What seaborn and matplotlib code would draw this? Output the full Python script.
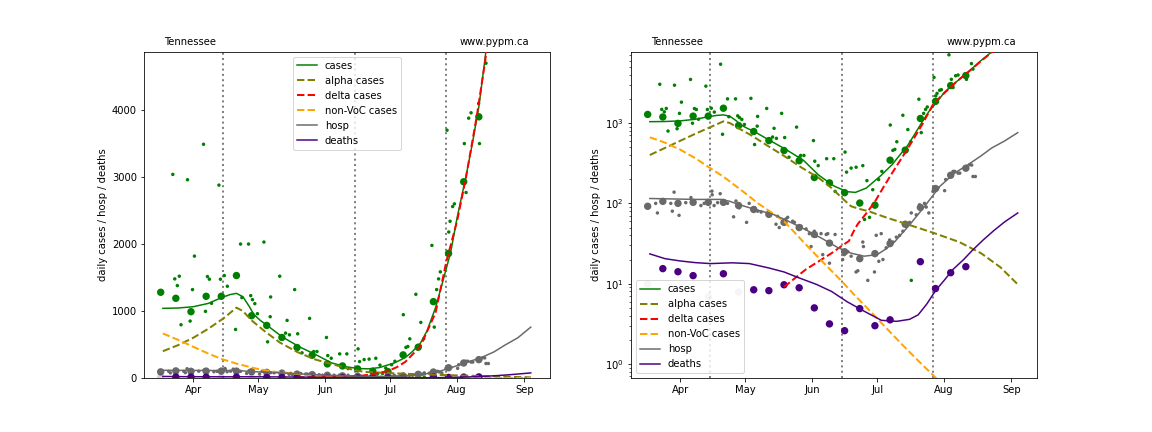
import numpy as np
import pandas as pd
import matplotlib
matplotlib.use("Agg")
import matplotlib.pyplot as plt
import matplotlib.dates as mdates
import seaborn as sns

# ---------------- data ----------------
region = "Tennessee"
site = "www.pypm.ca"

# weekly averaged observations
weekly_dates = ["2021-03-17", "2021-03-24", "2021-03-31", "2021-04-07", "2021-04-14",
                "2021-04-21", "2021-04-28", "2021-05-05", "2021-05-12", "2021-05-19",
                "2021-05-26", "2021-06-02", "2021-06-09", "2021-06-16", "2021-06-23",
                "2021-06-30", "2021-07-07", "2021-07-14", "2021-07-21", "2021-07-28",
                "2021-08-04", "2021-08-11"]
cases_weekly = [1280, 1190, 990, 1220, 1220, 1530, 930, 785, 605, 455, 340, 210, 180,
                136, 101, 95, 345, 460, 1140, 1860, 2930, 3900]
hosp_weekly = [92, 106, 100, 103, 103, 103, 94, 84, 73, 58, 50, 41, 32, 25, 20.5, 23.7,
               31.6, 55, 89, 153, 224, 274]
deaths_weekly = [10, 15.4, 14.1, 12.6, 6.9, 13.3, 7.9, 8.4, 8.2, 9.7, 8.9, 5.0, 3.16, 2.6,
                 4.9, 3.0, 3.55, np.nan, 18.8, 8.7, 13.7, 16.3]
deaths_faded = [True, False, False, False, True, False, True, False, False, False, False,
                False, False, False, False, False, False, False, False, False, False, False]

# daily observations: day offsets after 2021-04-01 and values
cases_daily_day = [-9.4, -8.5, -7.3, -6.4, -5.6, -2.6, -1.4, -0.3, 0.6, 4.8, 5.7, 6.6, 7.5,
                   8.5, 11.9, 12.6, 14.4, 15.8, 18.7, 19.6, 21.9, 22.5, 25.6, 26.6, 27.4,
                   28.5, 29.7, 32.7, 34.4, 34.7, 35.6, 35.8, 40.0, 42.7, 43.4, 44.5, 46.9,
                   48.3, 50.3, 53.8, 55.2, 55.7, 57.2, 61.6, 62.2, 63.8, 67.7, 71.0, 71.6,
                   76.2, 76.9, 79.0, 81.3, 84.4, 85.2, 86.3, 87.5, 89.0, 91.7, 93.2, 97.1,
                   98.3, 99.2, 100.1, 102.9, 105.2, 106.5, 106.8, 110.3, 111.4, 112.5,
                   113.4, 114.2, 117.3, 118.1, 118.7, 119.9, 120.7, 124.2, 125.3, 126.1,
                   127.3, 128.4, 131.9, 132.3, 134.6, 135.3]
cases_daily = [3040, 1480, 1380, 1520, 795, 2960, 850, 1320, 1820, 3490, 995, 1515, 1475,
               1115, 2880, 1475, 1530, 1370, 5400, 725, 2000, 1200, 2000, 1230, 1170,
               1110, 960, 2030, 540, 795, 915, 1210, 1520, 670, 860, 645, 1320,
               660, 376, 890, 378, 395, 395, 605, 335, 295, 360, 360, 141,
               435, 245, 275, 282, 295, 63, 192, 67, 148, 198, 250, 945,
               457, 470, 585, 1250, 830, 585, 11, 1980, 760, 1320,
               1480, 1585, 3700, 2180, 2340, 2560, 2600, 7070, 3500, 2770,
               3880, 3960, 4100, 3500, 5500, 4700]

hosp_daily_day = [-11.3, -10.5, -7.4, -4.3, -3.6, -2.8, -0.5, 2.6, 5.0, 9.6, 11.1, 14.7,
                  14.8, 15.7, 17.3, 18.5, 21.9, 24.7, 25.8, 27.3, 30.7, 31.9, 34.3, 35.8,
                  37.4, 41.2, 44.3, 45.0, 45.8, 48.9, 49.7, 52.0, 52.8, 55.9, 58.2, 59.7,
                  60.5, 62.0, 62.8, 65.1, 65.9, 67.5, 68.2, 69.0, 69.8, 71.6, 75.1, 75.9,
                  77.5, 79.0, 81.3, 82.1, 82.9, 84.4, 84.7, 86.7, 89.8, 90.6, 91.8, 92.9,
                  93.7, 95.2, 96.8, 98.3, 99.9, 101.4, 102.9, 104.5, 106.0, 106.8, 109.1,
                  110.6, 112.9, 113.7, 114.9, 116.8, 119.1, 122.2, 122.7, 124.5, 126.1,
                  126.9, 128.4, 129.2, 131.5, 132.4, 133.8, 134.7, 135.3, 136.4]
hosp_daily = [100, 76, 104, 100, 80, 138, 71, 102, 118, 94, 100, 142,
              128, 94, 102, 132, 100, 68, 107, 88, 58, 100, 88, 80,
              78, 73, 55, 69, 50, 64, 67, 60, 58, 52, 48, 42,
              29, 45, 39, 42, 23, 41, 42, 18, 32, 41, 20, 23,
              25, 22, 14, 14.5, 22, 33, 29, 11, 14, 40, 19, 42,
              20, 28, 35, 33, 38, 40, 45, 52, 58, 76, 72,
              96, 100, 90, 76, 141, 156, 144, 198, 216, 250,
              250, 238, 238, 275, 280, 303, 300, 216, 216]

# model curves
cases_model_dates = ["2021-03-18", "2021-03-25", "2021-04-01", "2021-04-08", "2021-04-14",
                     "2021-04-18", "2021-04-21", "2021-04-24", "2021-04-27", "2021-04-29",
                     "2021-05-02", "2021-05-05", "2021-05-12", "2021-05-20", "2021-05-28",
                     "2021-06-04", "2021-06-11", "2021-06-17", "2021-06-21", "2021-06-26",
                     "2021-07-03", "2021-07-08", "2021-07-11", "2021-07-15", "2021-07-18",
                     "2021-07-22", "2021-07-25", "2021-07-29", "2021-08-01", "2021-08-05",
                     "2021-08-08", "2021-08-11", "2021-08-14", "2021-08-18", "2021-08-23",
                     "2021-08-28", "2021-09-04"]
cases_model = [1040, 1045, 1064, 1114, 1199, 1245, 1264, 1214, 1064, 950, 860, 791, 617,
               467, 343, 225, 165, 140, 137, 155, 225, 305, 385, 520, 700, 1050, 1400,
               1880, 2400, 3000, 3500, 4050, 4800, 6000, 7700, 9200, 11500]

alpha_model_dates = ["2021-03-18", "2021-03-25", "2021-04-01", "2021-04-08", "2021-04-15",
                     "2021-04-21", "2021-04-24", "2021-04-28", "2021-05-04", "2021-05-11",
                     "2021-05-19", "2021-05-27", "2021-06-04", "2021-06-10", "2021-06-15",
                     "2021-06-19", "2021-06-23", "2021-06-27", "2021-07-05", "2021-07-14",
                     "2021-07-27", "2021-08-08", "2021-08-18", "2021-08-27", "2021-09-04"]
alpha_model = [400, 490, 600, 735, 890, 1050, 1000, 860, 700, 530, 390, 280, 208, 155,
               115, 92, 85, 80, 67, 56, 43, 33, 24, 16, 9.8]

delta_model_dates = ["2021-05-19", "2021-05-29", "2021-06-10", "2021-06-15", "2021-06-18",
                     "2021-06-20", "2021-06-22", "2021-06-26", "2021-06-30", "2021-07-04",
                     "2021-07-08", "2021-07-15", "2021-07-22", "2021-07-27", "2021-08-01",
                     "2021-08-05", "2021-08-10", "2021-08-14", "2021-08-18", "2021-08-23",
                     "2021-08-28", "2021-09-04"]
delta_model = [9.1, 15, 24, 30, 34, 44, 55, 75, 105, 160, 240, 473, 975, 1740, 2350, 2985,
               3900, 4750, 5900, 7600, 9100, 11400]

nonvoc_model_dates = ["2021-03-18", "2021-03-25", "2021-04-01", "2021-04-08", "2021-04-14",
                      "2021-04-21", "2021-04-30", "2021-05-07", "2021-05-19", "2021-05-28",
                      "2021-06-06", "2021-06-15", "2021-06-20", "2021-06-28", "2021-07-05",
                      "2021-07-13", "2021-07-20", "2021-07-27", "2021-08-05", "2021-08-15",
                      "2021-08-25", "2021-09-04"]
nonvoc_model = [665, 570, 467, 365, 285, 215, 141, 100, 60, 33, 18.5, 10.5, 7.5, 4.5, 2.85,
                1.7, 1.1, 0.72, 0.41, 0.22, 0.12, 0.065]

hosp_model_dates = ["2021-03-18", "2021-03-25", "2021-04-01", "2021-04-08", "2021-04-15",
                    "2021-04-20", "2021-04-24", "2021-04-28", "2021-05-05", "2021-05-14",
                    "2021-05-21", "2021-05-29", "2021-06-06", "2021-06-13", "2021-06-19",
                    "2021-06-25", "2021-07-01", "2021-07-05", "2021-07-09", "2021-07-16",
                    "2021-07-23", "2021-07-30", "2021-08-06", "2021-08-12", "2021-08-18",
                    "2021-08-23", "2021-08-29", "2021-09-04"]
hosp_model = [115, 114, 113, 112, 112, 112, 106, 97, 85, 73, 60, 47, 36, 28, 24, 22, 23, 27,
              33, 54, 92, 163, 240, 303, 390, 490, 600, 760]

deaths_model_dates = ["2021-03-18", "2021-03-25", "2021-04-01", "2021-04-08", "2021-04-15",
                      "2021-04-25", "2021-05-03", "2021-05-12", "2021-05-19", "2021-05-26",
                      "2021-06-03", "2021-06-10", "2021-06-17", "2021-06-24", "2021-07-03",
                      "2021-07-10", "2021-07-16", "2021-07-20", "2021-07-24", "2021-07-28",
                      "2021-08-01", "2021-08-05", "2021-08-10", "2021-08-14", "2021-08-19",
                      "2021-08-24", "2021-08-29", "2021-09-04"]
deaths_model = [23.5, 20.5, 19.2, 18.3, 17.8, 18.2, 17.8, 15.7, 14, 11.8, 9.8, 8.0, 6.0,
                4.7, 3.5, 3.4, 3.6, 4.1, 5.6, 8.2, 11, 15, 20, 26, 35, 46, 59, 76]

boundary_dates = ["2021-04-15", "2021-06-15", "2021-07-27"]

# ---------------- figure ----------------
BASE = pd.Timestamp("2021-04-01")


def off2date(offsets):
    return BASE + pd.to_timedelta(np.asarray(offsets, dtype=float), unit="D")


fig, axes = plt.subplots(1, 2, figsize=(16, 6), dpi=72)
fig.subplots_adjust(left=0.125, right=0.9, bottom=0.125, top=0.88, wspace=0.2)

wd = pd.to_datetime(weekly_dates)
faded = np.array(deaths_faded)
dw = np.array(deaths_weekly, dtype=float)

for ax, scale in zip(axes, ["linear", "log"]):
    ax.set_yscale(scale)
    for b in boundary_dates:
        ax.axvline(pd.Timestamp(b), color="grey", linestyle=":", linewidth=2, zorder=1)

    # daily points
    sns.scatterplot(x=off2date(cases_daily_day), y=cases_daily, color="green", s=12,
                    edgecolor="none", ax=ax, zorder=3)
    sns.scatterplot(x=off2date(hosp_daily_day), y=hosp_daily, color="dimgray", s=12,
                    edgecolor="none", ax=ax, zorder=3)
    # weekly points
    sns.scatterplot(x=wd, y=cases_weekly, color="green", s=55, edgecolor="none", ax=ax, zorder=3)
    sns.scatterplot(x=wd, y=hosp_weekly, color="dimgray", s=55, edgecolor="none", ax=ax, zorder=3)
    ok = ~np.isnan(dw)
    sns.scatterplot(x=wd[ok & ~faded], y=dw[ok & ~faded], color="indigo", s=55,
                    edgecolor="none", ax=ax, zorder=3)
    sns.scatterplot(x=wd[faded], y=dw[faded], color="indigo", s=55, alpha=0.2,
                    edgecolor="none", ax=ax, zorder=3)

    # model curves
    sns.lineplot(x=pd.to_datetime(cases_model_dates), y=cases_model, color="green",
                 linewidth=1.5, label="cases", ax=ax, errorbar=None, zorder=4)
    sns.lineplot(x=pd.to_datetime(alpha_model_dates), y=alpha_model, color="olive",
                 linewidth=2, linestyle="--", label="alpha cases", ax=ax, errorbar=None, zorder=4)
    sns.lineplot(x=pd.to_datetime(delta_model_dates), y=delta_model, color="red",
                 linewidth=2, linestyle="--", label="delta cases", ax=ax, errorbar=None, zorder=4)
    sns.lineplot(x=pd.to_datetime(nonvoc_model_dates), y=nonvoc_model, color="orange",
                 linewidth=2, linestyle="--", label="non-VoC cases", ax=ax, errorbar=None, zorder=4)
    sns.lineplot(x=pd.to_datetime(hosp_model_dates), y=hosp_model, color="dimgray",
                 linewidth=1.5, label="hosp", ax=ax, errorbar=None, zorder=4)
    sns.lineplot(x=pd.to_datetime(deaths_model_dates), y=deaths_model, color="indigo",
                 linewidth=1.5, label="deaths", ax=ax, errorbar=None, zorder=4)

    ax.set_xlim(pd.Timestamp("2021-03-09 07:00"), pd.Timestamp("2021-09-12 19:00"))
    ax.xaxis.set_major_locator(mdates.MonthLocator())
    ax.xaxis.set_major_formatter(mdates.DateFormatter("%b"))
    ax.set_xlabel("")
    ax.set_ylabel("daily cases / hosp / deaths")
    ax.text(0.05, 1.015, region, transform=ax.transAxes, ha="left", va="bottom", fontsize=10)
    ax.text(0.95, 1.015, site, transform=ax.transAxes, ha="right", va="bottom", fontsize=10)

axes[0].set_ylim(0, 4870)
axes[1].set_ylim(0.67, 7700)
axes[0].legend(loc="upper center")
axes[1].legend(loc="lower left")

fig.savefig("out.png", dpi=72)
